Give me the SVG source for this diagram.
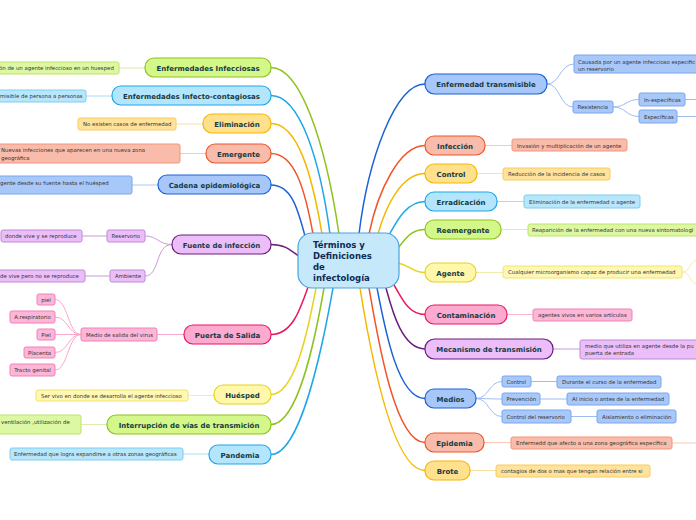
<svg xmlns="http://www.w3.org/2000/svg" width="696" height="520" viewBox="0 0 696 520">
<style>
text{font-family:"DejaVu Sans","Noto Sans",sans-serif}
.t{font-size:7px;font-weight:bold;fill:#173a40;text-anchor:middle}
.l{font-size:5.4px;fill:#333}
.lc{font-size:5.4px;fill:#333;text-anchor:middle}
.c{font-size:8.5px;font-weight:bold;fill:#0e2a55}
.m{fill:none;stroke-width:1.5}
.s{fill:none;stroke-width:1}
.n{stroke-width:1.2}
.k{stroke-width:1}
.gr{fill:#d4f78a;stroke:#8dc21f}.grl{fill:#dcf8a2;stroke:#bde36a}
.lb{fill:#b3e5fc;stroke:#1ea7e8}.lbl{fill:#b8e7fc;stroke:#7fcdf2}
.or{fill:#ffe08c;stroke:#f5b800}.orl{fill:#ffe29c;stroke:#f8cc5a}
.rd{fill:#f9bcaa;stroke:#f0552a}.rdl{fill:#f9bcaa;stroke:#f3957a}
.bl{fill:#a7c7fa;stroke:#1b62d6}.bll{fill:#a9c8fa;stroke:#78a6ee}
.pu{fill:#ebbef9;stroke:#6b1d7a}.pul{fill:#ebbef9;stroke:#c08ad6}
.pk{fill:#fcaad0;stroke:#e8175f}.pkl{fill:#fcb6d8;stroke:#f280b5}
.ye{fill:#fff7aa;stroke:#e6d320}.yel{fill:#fff7b4;stroke:#f2e36a}
</style>
<g id="connectors">
<path class="m" stroke="#8dc21f" d="M271,67.5 C300,67.5 325,140 339,234"/>
<path class="m" stroke="#1ea7e8" d="M271,95.5 C300,95.5 320,160 330,234"/>
<path class="m" stroke="#f5b800" d="M271,123.5 C298,123.5 312,175 322,234"/>
<path class="m" stroke="#f0552a" d="M271,153.5 C295,153.5 305,190 313,234"/>
<path class="m" stroke="#1b62d6" d="M271,185 C292,185 298,210 305,236"/>
<path class="m" stroke="#6b1d7a" d="M271,244.5 C285,244.5 290,250 300,257"/>
<path class="m" stroke="#e8175f" d="M271,334.5 C292,334.5 300,310 308,287"/>
<path class="m" stroke="#e6d320" d="M271,394.5 C295,394.5 308,330 316,288"/>
<path class="m" stroke="#8dc21f" d="M271,424.5 C298,424.5 315,340 324,288"/>
<path class="m" stroke="#1ea7e8" d="M271,454.5 C300,454.5 322,350 333,288"/>
<path class="m" stroke="#1b62d6" d="M425,84 C395,84 368,160 359,234"/>
<path class="m" stroke="#f0552a" d="M425,145.5 C400,145.5 378,190 369,234"/>
<path class="m" stroke="#f5b800" d="M425,173.5 C402,173.5 386,205 378,234"/>
<path class="m" stroke="#1ea7e8" d="M425,201.5 C405,201.5 395,225 388,237"/>
<path class="m" stroke="#8dc21f" d="M425,229.5 C410,229.5 405,240 397,249"/>
<path class="m" stroke="#e6d320" d="M425,272.5 C412,272.5 410,265 398,263"/>
<path class="m" stroke="#e8175f" d="M425,314.5 C408,314.5 402,298 394,285"/>
<path class="m" stroke="#6b1d7a" d="M425,349 C402,349 392,310 386,288"/>
<path class="m" stroke="#1b62d6" d="M425,398.5 C398,398.5 385,330 377,288"/>
<path class="m" stroke="#f0552a" d="M425,442.5 C395,442.5 378,340 369,288"/>
<path class="m" stroke="#f5b800" d="M425,470.5 C392,470.5 370,350 360,288"/>
<path class="s" stroke="#d6eea6" d="M119,68 H145"/>
<path class="s" stroke="#a8dcf5" d="M86,96 H112"/>
<path class="s" stroke="#fbe0a0" d="M176,124 H203"/>
<path class="s" stroke="#f9c8b8" d="M180,153.5 H206"/>
<path class="s" stroke="#a9c8f4" d="M132,185 H158"/>
<path class="s" stroke="#c89ad8" d="M172,244.5 C158,244.5 158,236 145,236 M172,244.5 C155,244.5 160,276 145,276 M82,236 H107 M85,276 H110"/>
<path class="s" stroke="#f7a8cc" d="M157,334.5 H184 M81,334.5 C68,334.5 68,299.5 55,299.5 M81,334.5 C68,334.5 68,317 55,317 M81,334.5 H55 M81,334.5 C68,334.5 68,352.5 55,352.5 M81,334.5 C68,334.5 68,370 55,370"/>
<path class="s" stroke="#f3ecb0" d="M188,395.5 H214"/>
<path class="s" stroke="#dcefb0" d="M81,424.5 H107"/>
<path class="s" stroke="#a8dcf5" d="M183,454 H209"/>
<path class="s" stroke="#9dbcf0" d="M547,84 C560,84 560,64 574,64 M547,84 C560,84 560,107 573,107 M613,107 C626,107 626,99.5 639,99.5 M613,107 C626,107 626,116.5 639,116.5 M685,99.5 H696 M677,116.5 H696"/>
<path class="s" stroke="#f9c8b8" d="M485,145.5 H512"/>
<path class="s" stroke="#fbe0a0" d="M477,173.5 H503"/>
<path class="s" stroke="#a8dcf5" d="M497,201.5 H524"/>
<path class="s" stroke="#dcefb0" d="M501,229.5 H528"/>
<path class="s" stroke="#f3ecb0" d="M476,272.5 H503 M682,272 C690,272 690,262 696,260 M682,272 C690,272 690,282 696,284"/>
<path class="s" stroke="#f7b8d4" d="M507,314.5 H533"/>
<path class="s" stroke="#c89ad8" d="M553,349 H580"/>
<path class="s" stroke="#9dbcf0" d="M476,398.5 C489,398.5 489,381.5 502,381.5 M476,398.5 C489,398.5 489,399 502,399 M476,398.5 C489,398.5 489,416.5 502,416.5 M531,381.5 H557 M540,399 H567 M571,416.5 H597"/>
<path class="s" stroke="#f9c8b8" d="M484,442.5 H511 M672,443 H696"/>
<path class="s" stroke="#fbe0a0" d="M470,470.5 H496"/>
</g>
<g id="center"><rect x="298" y="233" width="101" height="55" rx="14" fill="#c5e9fb" stroke="#4aa3df" stroke-width="1.2"/>
<text class="c" x="313" y="248">Términos y</text><text class="c" x="313" y="259">Definiciones</text><text class="c" x="313" y="270">de</text><text class="c" x="313" y="281">infectología</text></g>
<g id="n-enf-infecciosas"><rect class="gr n" x="145" y="58" width="126" height="19" rx="9"/><text class="t" x="208" y="70.5">Enfermedades Infecciosas</text></g>
<g id="l-enf-infecciosas"><rect class="grl k" x="-2" y="62" width="121" height="12" rx="2"/><text class="l" x="-1" y="70">ón de un agente infeccioso en un huesped</text></g>
<g id="n-infecto"><rect class="lb n" x="112" y="86" width="159" height="19" rx="9"/><text class="t" x="191.5" y="98.5">Enfermedades Infecto-contagiosas</text></g>
<g id="l-infecto"><rect class="lbl k" x="-2" y="90" width="88" height="12" rx="2"/><text class="l" x="0" y="98">misible de persona a personas</text></g>
<g id="n-eliminacion"><rect class="or n" x="203" y="114" width="68" height="19" rx="9"/><text class="t" x="237" y="126.5">Eliminación</text></g>
<g id="l-eliminacion"><rect class="orl k" x="78" y="118" width="98" height="12" rx="2"/><text class="l" x="83" y="126">No existen casos de enfermedad</text></g>
<g id="n-emergente"><rect class="rd n" x="206" y="144" width="65" height="19" rx="9"/><text class="t" x="238.5" y="156.5">Emergente</text></g>
<g id="l-emergente"><rect class="rdl k" x="-2" y="144" width="182" height="19" rx="2"/><text class="l" x="1" y="152">Nuevas infecciones que aparecen en una nueva zona</text><text class="l" x="1" y="160">geográfica</text></g>
<g id="n-cadena"><rect class="bl n" x="158" y="175" width="113" height="19" rx="9"/><text class="t" x="214.5" y="187.5">Cadena epidemiológica</text></g>
<g id="l-cadena"><rect class="bll k" x="-2" y="176" width="134" height="18" rx="2"/><text class="l" x="0" y="184.5">gente desde su fuente hasta el huésped</text></g>
<g id="n-fuente"><rect class="pu n" x="172" y="235" width="99" height="19" rx="9"/><text class="t" x="221.5" y="247.5">Fuente de infección</text></g>
<g id="n-reservorio"><rect class="pul k" x="107" y="230" width="38" height="12" rx="2"/><text class="l" x="111.5" y="238">Reservorio</text></g>
<g id="l-reservorio"><rect class="pul k" x="1" y="230" width="81" height="12" rx="2"/><text class="l" x="5" y="238">donde vive y se reproduce</text></g>
<g id="n-ambiente"><rect class="pul k" x="110" y="270" width="35" height="12" rx="2"/><text class="l" x="115" y="278">Ambiente</text></g>
<g id="l-ambiente"><rect class="pul k" x="-2" y="270" width="87" height="12" rx="2"/><text class="l" x="0" y="278">de vive pero no se reproduce</text></g>
<g id="n-puerta"><rect class="pk n" x="184" y="325" width="87" height="19" rx="9"/><text class="t" x="227.5" y="337.5">Puerta de Salida</text></g>
<g id="n-medio"><rect class="pkl k" x="81" y="328" width="76" height="13" rx="2"/><text class="l" x="86" y="336.5">Medio de salida del virus</text></g>
<g id="l-piel"><rect class="pkl k" x="37" y="294" width="18" height="11" rx="2"/><text class="lc" x="46" y="301.5">piel</text></g>
<g id="l-resp"><rect class="pkl k" x="10" y="311" width="45" height="12" rx="2"/><text class="lc" x="32.5" y="319">A.respiratorio</text></g>
<g id="l-piel2"><rect class="pkl k" x="37" y="329" width="18" height="11" rx="2"/><text class="lc" x="46" y="336.5">Piel</text></g>
<g id="l-placenta"><rect class="pkl k" x="24" y="347" width="31" height="11" rx="2"/><text class="lc" x="39.5" y="354.5">Placenta</text></g>
<g id="l-tracto"><rect class="pkl k" x="10" y="364" width="45" height="12" rx="2"/><text class="lc" x="32.5" y="372">Tracto genital</text></g>
<g id="n-huesped"><rect class="ye n" x="214" y="385" width="57" height="19" rx="9"/><text class="t" x="242.5" y="397.5">Huésped</text></g>
<g id="l-huesped"><rect class="yel k" x="36" y="390" width="152" height="11" rx="2"/><text class="l" x="41" y="397.5">Ser vivo en donde se desarrolla el agente infeccioso</text></g>
<g id="n-interrupcion"><rect class="gr n" x="107" y="415" width="164" height="19" rx="9"/><text class="t" x="189" y="427.5">Interrupción de vías de transmición</text></g>
<g id="l-interrupcion"><rect class="grl k" x="-2" y="415" width="83" height="19" rx="2"/><text class="l" x="1" y="424">ventilación ,utilización de</text></g>
<g id="n-pandemia"><rect class="lb n" x="209" y="445" width="62" height="19" rx="9"/><text class="t" x="240" y="457.5">Pandemia</text></g>
<g id="l-pandemia"><rect class="lbl k" x="10" y="448" width="173" height="12" rx="2"/><text class="l" x="14" y="456">Enfermedad que logra expandirse a otras zonas geográficas</text></g>
<g id="n-transmisible"><rect class="bl n" x="425" y="74" width="122" height="20" rx="9.5"/><text class="t" x="486" y="87">Enfermedad transmisible</text></g>
<g id="l-causada"><rect class="bll k" x="574" y="55" width="130" height="18" rx="2"/><text class="l" x="578" y="63.5">Causada por un agente infeccioso especific</text><text class="l" x="578" y="71">un reservorio</text></g>
<g id="n-resistencia"><rect class="bll k" x="573" y="101" width="40" height="12" rx="2"/><text class="l" x="577.5" y="109">Resistencia</text></g>
<g id="l-inesp"><rect class="bll k" x="639" y="93" width="46" height="13" rx="2"/><text class="l" x="644" y="101.5">In-específicas</text></g>
<g id="l-esp"><rect class="bll k" x="639" y="110" width="38" height="13" rx="2"/><text class="l" x="644" y="118.5">Específicas</text></g>
<g id="n-infeccion"><rect class="rd n" x="425" y="136" width="60" height="19" rx="9"/><text class="t" x="455" y="148.5">Infección</text></g>
<g id="l-infeccion"><rect class="rdl k" x="512" y="139" width="115" height="12" rx="2"/><text class="l" x="517" y="147.5">Invasión y multiplicación de un agente</text></g>
<g id="n-control"><rect class="or n" x="425" y="164" width="52" height="19" rx="9"/><text class="t" x="451" y="176.5">Control</text></g>
<g id="l-control"><rect class="orl k" x="503" y="168" width="107" height="12" rx="2"/><text class="l" x="508" y="176">Reducción de la incidencia de casos</text></g>
<g id="n-erradicacion"><rect class="lb n" x="425" y="192" width="72" height="19" rx="9"/><text class="t" x="461" y="204.5">Erradicación</text></g>
<g id="l-erradicacion"><rect class="lbl k" x="524" y="195" width="116" height="13" rx="2"/><text class="l" x="529" y="203.5">Eliminación de la enfermedad o agente</text></g>
<g id="n-reemergente"><rect class="gr n" x="425" y="220" width="76" height="19" rx="9"/><text class="t" x="463" y="232.5">Reemergente</text></g>
<g id="l-reemergente"><rect class="grl k" x="528" y="224" width="175" height="12" rx="2"/><text class="l" x="532" y="232">Reaparición de la enfermedad con una nueva sintomatologí</text></g>
<g id="n-agente"><rect class="ye n" x="425" y="263" width="51" height="19" rx="9"/><text class="t" x="450.5" y="275.5">Agente</text></g>
<g id="l-agente"><rect class="yel k" x="503" y="266" width="179" height="12" rx="2"/><text class="l" x="508" y="274">Cualquier microorganismo capaz de producir una enfermedad</text></g>
<g id="n-contaminacion"><rect class="pk n" x="425" y="305" width="82" height="19" rx="9"/><text class="t" x="466" y="317.5">Contaminación</text></g>
<g id="l-contaminacion"><rect class="pkl k" x="533" y="309" width="99" height="12" rx="2"/><text class="l" x="538" y="317">agentes vivos en varios artículos</text></g>
<g id="n-mecanismo"><rect class="pu n" x="425" y="339" width="128" height="20" rx="9.5"/><text class="t" x="489" y="352">Mecanismo de transmisión</text></g>
<g id="l-mecanismo"><rect class="pul k" x="580" y="340" width="122" height="19" rx="2"/><text class="l" x="585" y="347.5">medio que utiliza en agente desde la pu</text><text class="l" x="585" y="355">puerta de entrada</text></g>
<g id="n-medios"><rect class="bl n" x="425" y="389" width="51" height="19" rx="9"/><text class="t" x="450.5" y="401.5">Medios</text></g>
<g id="n-m-control"><rect class="bll k" x="502" y="376" width="29" height="11" rx="2"/><text class="l" x="506.5" y="383.5">Control</text></g>
<g id="n-m-prevencion"><rect class="bll k" x="502" y="393" width="38" height="12" rx="2"/><text class="l" x="506.5" y="401">Prevención</text></g>
<g id="n-m-reservorio"><rect class="bll k" x="502" y="410" width="69" height="13" rx="2"/><text class="l" x="506.5" y="418.5">Control del reservorio</text></g>
<g id="l-durante"><rect class="bll k" x="557" y="376" width="104" height="12" rx="2"/><text class="l" x="562" y="384">Durante el curso de la enfermedad</text></g>
<g id="l-inicio"><rect class="bll k" x="567" y="393" width="102" height="12" rx="2"/><text class="l" x="572" y="401">Al inicio o antes de la enfermedad</text></g>
<g id="l-aislamiento"><rect class="bll k" x="597" y="410" width="79" height="13" rx="2"/><text class="l" x="602" y="418.5">Aislamiento o eliminación</text></g>
<g id="n-epidemia"><rect class="rd n" x="425" y="433" width="59" height="19" rx="9"/><text class="t" x="454.5" y="445.5">Epidemia</text></g>
<g id="l-epidemia"><rect class="rdl k" x="511" y="437" width="161" height="12" rx="2"/><text class="l" x="516" y="445">Enfermedd que afecto a una zona geográfica específica</text></g>
<g id="n-brote"><rect class="or n" x="425" y="461" width="45" height="19" rx="9"/><text class="t" x="447.5" y="473.5">Brote</text></g>
<g id="l-brote"><rect class="orl k" x="496" y="465" width="154" height="12" rx="2"/><text class="l" x="501" y="473">contagios de dos o mas que tengan relación entre si</text></g>
</svg>
